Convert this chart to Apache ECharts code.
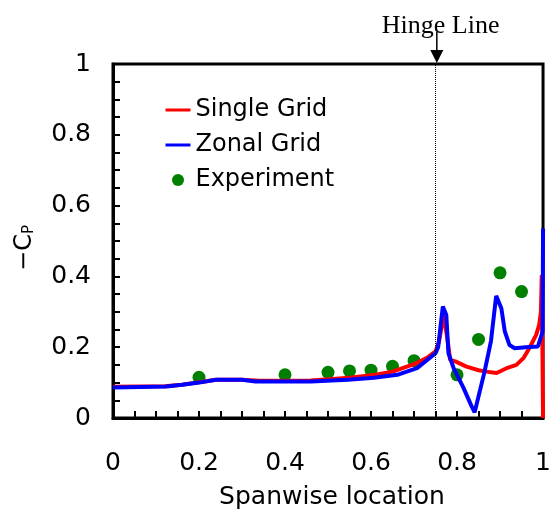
<!DOCTYPE html>
<html>
<head>
<meta charset="utf-8">
<script src="https://cdn.jsdelivr.net/npm/echarts@6/dist/echarts.min.js"></script>
<style>html,body{margin:0;padding:0;background:#fff}#c{width:554px;height:515px}</style>
</head>
<body>
<div id="c"></div>
<script>
// ---- data ----
const singleX = [0, 0.12, 0.16, 0.2, 0.24, 0.3, 0.34, 0.46, 0.55, 0.61, 0.65, 0.7, 0.73, 0.75, 0.758, 0.769, 0.778, 0.784, 0.796, 0.822, 0.85, 0.868, 0.892, 0.914, 0.938, 0.955, 0.968, 0.984, 0.991, 0.995, 0.997, 1.0];
const singleY = [0.088, 0.09, 0.094, 0.101, 0.108, 0.108, 0.105, 0.106, 0.114, 0.122, 0.131, 0.152, 0.17, 0.188, 0.215, 0.291, 0.22, 0.164, 0.16, 0.145, 0.135, 0.131, 0.127, 0.14, 0.15, 0.17, 0.197, 0.235, 0.263, 0.3, 0.404, 0.0];
const zonalX = [0, 0.124, 0.161, 0.2, 0.239, 0.3, 0.331, 0.461, 0.546, 0.607, 0.661, 0.707, 0.75, 0.756, 0.767, 0.775, 0.78, 0.792, 0.815, 0.834, 0.841, 0.864, 0.879, 0.891, 0.903, 0.911, 0.922, 0.934, 0.96, 0.988, 0.999, 1.0];
const zonalY = [0.086, 0.089, 0.094, 0.1, 0.108, 0.108, 0.103, 0.103, 0.108, 0.114, 0.122, 0.141, 0.183, 0.2, 0.315, 0.291, 0.183, 0.141, 0.085, 0.033, 0.016, 0.131, 0.218, 0.345, 0.31, 0.245, 0.206, 0.197, 0.2, 0.202, 0.244, 0.535];
const expX = [0.2, 0.4, 0.5, 0.55, 0.6, 0.65, 0.7, 0.8, 0.85, 0.9, 0.95];
const expY = [0.115, 0.122, 0.129, 0.133, 0.135, 0.146, 0.162, 0.122, 0.222, 0.41, 0.357];
const seriesNames = ['Single Grid', 'Zonal Grid', 'Experiment'];
const hingeX = 0.753;
const hingeLabel = 'Hinge Line';
const xTitle = 'Spanwise location';

const zip = (xs, ys) => xs.map((x, i) => [x, ys[i]]);
const FONT = '"DejaVu Sans", sans-serif';

const chart = echarts.init(document.getElementById('c'));
const axisCommon = {
  axisLine: { show: true, lineStyle: { color: '#000', width: 3 } },
  axisTick: { show: true, inside: true, length: 7, lineStyle: { color: '#000', width: 2 } },
  minorTick: { show: true, splitNumber: 4, length: 7, lineStyle: { color: '#000', width: 2 } },
  splitLine: { show: false },
  axisLabel: { color: '#000', fontSize: 25, fontFamily: FONT }
};
chart.setOption({
  animation: false,
  grid: { left: 113, right: 7, top: 64, bottom: 96, show: true, borderColor: '#000', borderWidth: 3 },
  legend: {
    orient: 'vertical', left: 164, top: 98, padding: 0, itemWidth: 25, itemHeight: 12, itemGap: 11,
    textStyle: { color: '#000', fontSize: 24, fontFamily: FONT },
    data: [
      { name: seriesNames[0], itemStyle: { opacity: 0 }, lineStyle: { width: 3 } },
      { name: seriesNames[1], itemStyle: { opacity: 0 }, lineStyle: { width: 3 } },
      { name: seriesNames[2] }
    ]
  },
  xAxis: Object.assign({}, axisCommon, {
    type: 'value', min: 0, max: 1, interval: 0.2,
    axisLabel: Object.assign({}, axisCommon.axisLabel, { margin: 33 }),
    name: xTitle, nameLocation: 'middle', nameGap: 67,
    nameTextStyle: { color: '#000', fontSize: 25, fontFamily: FONT, padding: [0, 0, 0, 8] }
  }),
  yAxis: Object.assign({}, axisCommon, {
    type: 'value', min: 0, max: 1, interval: 0.2,
    axisLabel: Object.assign({}, axisCommon.axisLabel, { margin: 22 }),
    name: '{a|−C}{b|P}', nameLocation: 'middle', nameGap: 76, nameRotate: 90,
    nameTextStyle: { color: '#000', fontFamily: FONT, padding: [0, 14, 0, 0],
      rich: { a: { fontSize: 24, fontFamily: FONT, color: '#000' },
              b: { fontSize: 15, fontFamily: FONT, color: '#000', verticalAlign: 'bottom', padding: [9, 0, 0, 0] } } }
  }),
  series: [
    { name: seriesNames[0], type: 'line', data: zip(singleX, singleY), symbol: 'none', clip: false,
      lineStyle: { color: '#ff0000', width: 4 }, itemStyle: { color: '#ff0000' },
      markLine: { silent: true, symbol: 'none', label: { show: false },
        lineStyle: { color: '#000', width: 1, type: [1, 1] }, data: [{ xAxis: hingeX }] } },
    { name: seriesNames[1], type: 'line', data: zip(zonalX, zonalY), symbol: 'none', clip: false,
      lineStyle: { color: '#0000ff', width: 4 }, itemStyle: { color: '#0000ff' } },
    { name: seriesNames[2], type: 'scatter', data: zip(expX, expY), symbol: 'circle', symbolSize: 13,
      itemStyle: { color: '#007f00', opacity: 1 } }
  ]
});

// hinge annotation placed from the axis scale
const hp = chart.convertToPixel({ gridIndex: 0 }, [hingeX, 1]);
chart.setOption({
  graphic: [
    { type: 'text', left: hp[0] - 55, top: hp[1] - 51,
      style: { text: hingeLabel, fill: '#000', font: '26px "Liberation Serif", "Times New Roman", serif' } },
    { type: 'line', shape: { x1: hp[0], y1: hp[1] - 32, x2: hp[0], y2: hp[1] - 10 },
      style: { stroke: '#000', lineWidth: 1.5 } },
    { type: 'polygon', shape: { points: [[hp[0] - 6.5, hp[1] - 14], [hp[0] + 6.5, hp[1] - 14], [hp[0], hp[1] - 1]] },
      style: { fill: '#000' } }
  ]
});
</script>
</body>
</html>
